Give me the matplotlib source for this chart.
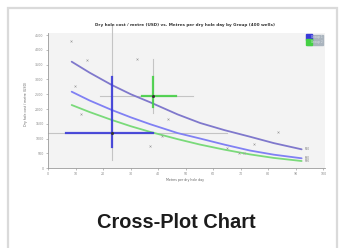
import matplotlib
matplotlib.use("Agg")
import matplotlib.pyplot as plt
from matplotlib.patches import Rectangle
from matplotlib.lines import Line2D

# ---------------- data ----------------
x_ticks = [0, 10, 20, 30, 40, 50, 60, 70, 80, 90, 100]
y_ticks = [0, 500, 1000, 1500, 2000, 2500, 3000, 3500, 4000, 4500]

well_x = [8.1, 14.0, 9.6, 12.0, 32.4, 43.6, 36.9, 41.2, 64.9, 69.2, 71.3, 74.8, 83.6]
well_y = [4308, 3656, 2778, 1833, 3680, 1664, 743, 1090, 695, 527, 527, 830, 1236]

curve_x = [8.5, 15.0, 23.1, 30.0, 37.0, 47.0, 55.2, 64.0, 73.3, 82.0, 92.1]
curve_top = [3599, 3230, 2812, 2500, 2230, 1820, 1530, 1290, 1067, 850, 641]
curve_mid = [2586, 2290, 1968, 1720, 1490, 1190, 1005, 800, 600, 460, 338]
curve_low = [2137, 1900, 1631, 1420, 1230, 985, 800, 630, 470, 350, 246]
curve_names = ["P10", "P50", "P90"]

groups = ["Group 1", "Group 2"]
grp_x = [23.0, 38.1]
grp_y = [1182, 2451]
grp_x_lo = [6.4, 34.0]
grp_x_hi = [38.0, 46.4]
grp_y_lo = [729, 2059]
grp_y_hi = [3093, 3072]
rng_x_lo = [0.0, 18.8]
rng_x_hi = [64.9, 52.7]
rng_y_lo = [280, 1857]
rng_y_hi = [4838, 3680]

# ---------------- styles ----------------
grp_colors = ["#3a3ad8", "#45d045"]
curve_colors = ["#7f78cc", "#8080f4", "#7ada7a"]

W, H = 340, 248
fig = plt.figure(figsize=(W / 100, H / 100), dpi=100)
fig.patch.set_facecolor("white")

# card border
fig.add_artist(Rectangle((8 / W, -0.05), (337 - 8) / W, (H - 8) / H + 0.05,
                         transform=fig.transFigure, fill=False,
                         edgecolor="#dadada", linewidth=1.6))

ax = fig.add_axes([47.5 / W, 1 - 168.3 / H, (325 - 47.5) / W, (168.3 - 33) / H])
ax.set_facecolor("#f3f3f3")
ax.set_xlim(-0.29, 100.6)
ax.set_ylim(0, 4568)

for s in ["top", "right"]:
    ax.spines[s].set_visible(False)
for s in ["left", "bottom"]:
    ax.spines[s].set_color("#9a9a9a")
    ax.spines[s].set_linewidth(0.6)

ax.set_xticks(x_ticks)
ax.set_yticks(y_ticks)
ax.set_xticklabels([str(v) for v in x_ticks])
ax.set_yticklabels([str(v) for v in y_ticks])
ax.tick_params(axis="both", labelsize=2.3, colors="#8a8a8a", length=1.5, width=0.4, pad=1.2)

# group ranges (gray crosses)
for i in range(len(groups)):
    ax.plot([grp_x[i], grp_x[i]], [rng_y_lo[i], rng_y_hi[i]], color="#c4c4c4", lw=0.8,
            zorder=2, clip_on=False)
    ax.plot([rng_x_lo[i], rng_x_hi[i]], [grp_y[i], grp_y[i]], color="#c4c4c4", lw=0.8,
            zorder=2, clip_on=False)

# curves
for cy, col, name in zip([curve_top, curve_mid, curve_low], curve_colors, curve_names):
    ax.plot(curve_x, cy, color=col, lw=1.3, zorder=3, solid_capstyle="round",
            solid_joinstyle="round")
    ax.text(curve_x[-1] + 1.0, cy[-1], name, fontsize=2.0, color="#777777",
            va="center", ha="left", zorder=5)

# group crosses
for i in range(len(groups)):
    ax.plot([grp_x[i], grp_x[i]], [grp_y_lo[i], grp_y_hi[i]], color=grp_colors[i], lw=1.6,
            zorder=4, alpha=0.9)
    ax.plot([grp_x_lo[i], grp_x_hi[i]], [grp_y[i], grp_y[i]], color=grp_colors[i], lw=1.6,
            zorder=4, alpha=0.9)
    ax.plot([grp_x[i]], [grp_y[i]], "o", color="#333333", ms=1.2, zorder=5)

# wells
ax.plot(well_x, well_y, "x", color="#9a9a9a", ms=1.4, mew=0.4, ls="none", zorder=3)

# legend
handles = [Line2D([], [], marker="s", ls="none", color=c, ms=4.0) for c in grp_colors]
leg = ax.legend(handles, groups, loc="upper right", fontsize=2.2, frameon=True,
                facecolor="#aab4be", edgecolor="#aab4be", framealpha=1,
                labelcolor="#dde2e8", handlelength=0.7, handletextpad=0.3,
                borderpad=0.3, labelspacing=0.25, borderaxespad=0.5, fancybox=False)

ax.set_xlabel("Metres per dry hole day", fontsize=2.3, color="#666666")
ax.xaxis.set_label_coords(0.497, -0.072)
ax.set_ylabel("Dry hole cost / metre (USD)", fontsize=2.3, color="#666666")
ax.yaxis.set_label_coords(-0.070, 0.48)

fig.text(185 / W, 1 - 25 / H,
         "Dry hole cost / metre (USD) vs. Metres per dry hole day by Group (400 wells)",
         fontsize=3.0, color="#333333", ha="center", va="center", weight="bold")

fig.text(176 / W, 1 - 222 / H, "Cross-Plot Chart", fontsize=14.4, weight="bold",
         family=["Liberation Sans", "DejaVu Sans"], color="#1c1c1c",
         ha="center", va="center")

fig.savefig("out.png", dpi=100, facecolor="white")
